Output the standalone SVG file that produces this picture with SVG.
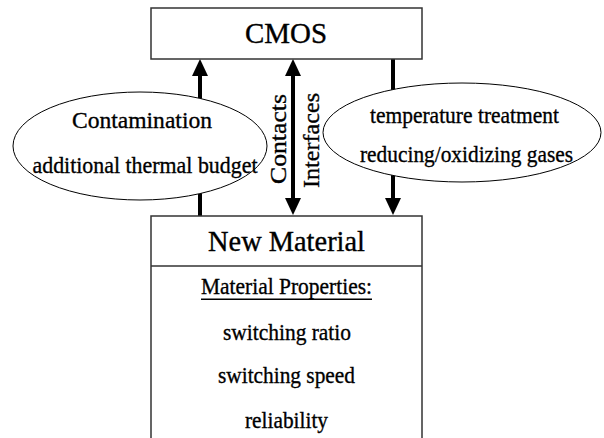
<svg xmlns="http://www.w3.org/2000/svg" width="604" height="438" viewBox="0 0 604 438">
<defs>
<style>
text{fill:#000;stroke:#000;stroke-width:0.35;text-anchor:middle;font-family:"Liberation Serif","Times New Roman",serif}
.box{fill:#fff;stroke:#333;stroke-width:1.5}
.ell{fill:#fff;stroke:#000;stroke-width:1}
.conn{fill:none;stroke:#000;stroke-width:4}
.t29{font-size:29px}
.t24{font-size:24px}
</style>
<marker id="ah" viewBox="0 0 17 16" markerWidth="17" markerHeight="16" refX="0" refY="8" orient="auto-start-reverse" markerUnits="userSpaceOnUse">
<path d="M0,0 L17,8 L0,16 z" fill="#000"/>
</marker>
</defs>
<rect width="604" height="438" fill="#fff"/>
<g id="connectors">
<path class="conn" d="M200,216 L200,76" marker-end="url(#ah)"/>
<path class="conn" d="M293,76 L293,198" marker-start="url(#ah)" marker-end="url(#ah)"/>
<path class="conn" d="M393,59 L393,198" marker-end="url(#ah)"/>
<text class="t24" transform="translate(286,139) rotate(-90)" textLength="90" lengthAdjust="spacingAndGlyphs">Contacts</text>
<text class="t24" transform="translate(319,140.5) rotate(-90)" textLength="95" lengthAdjust="spacingAndGlyphs">Interfaces</text>
</g>
<g id="cmos">
<rect class="box" x="151" y="8" width="271" height="51"/>
<text class="t29" x="286" y="43" textLength="82" lengthAdjust="spacingAndGlyphs">CMOS</text>
</g>
<g id="contamination">
<ellipse class="ell" cx="140" cy="146" rx="127" ry="54"/>
<text class="t24" x="142" y="128.3" textLength="140" lengthAdjust="spacingAndGlyphs">Contamination</text>
<text class="t24" x="145" y="173" textLength="225" lengthAdjust="spacingAndGlyphs">additional thermal budget</text>
</g>
<g id="temperature">
<ellipse class="ell" cx="462" cy="132.5" rx="139" ry="49.5"/>
<text class="t24" x="464.5" y="123" textLength="189" lengthAdjust="spacingAndGlyphs">temperature treatment</text>
<text class="t24" x="466.5" y="162" textLength="213" lengthAdjust="spacingAndGlyphs">reducing/oxidizing gases</text>
</g>
<g id="newmaterial">
<rect class="box" x="151" y="216" width="271" height="240"/>
<line x1="151" y1="266" x2="422" y2="266" stroke="#333" stroke-width="1.5"/>
<text class="t29" x="286.5" y="251" textLength="157" lengthAdjust="spacingAndGlyphs">New Material</text>
<text class="t24" x="286.5" y="294" textLength="171" lengthAdjust="spacingAndGlyphs">Material Properties:</text>
<line x1="201" y1="299.3" x2="372" y2="299.3" stroke="#000" stroke-width="1.5"/>
<text class="t24" x="287" y="339.5" textLength="128" lengthAdjust="spacingAndGlyphs">switching ratio</text>
<text class="t24" x="286.5" y="383" textLength="137" lengthAdjust="spacingAndGlyphs">switching speed</text>
<text class="t24" x="286.5" y="428" textLength="83" lengthAdjust="spacingAndGlyphs">reliability</text>
</g>
</svg>
